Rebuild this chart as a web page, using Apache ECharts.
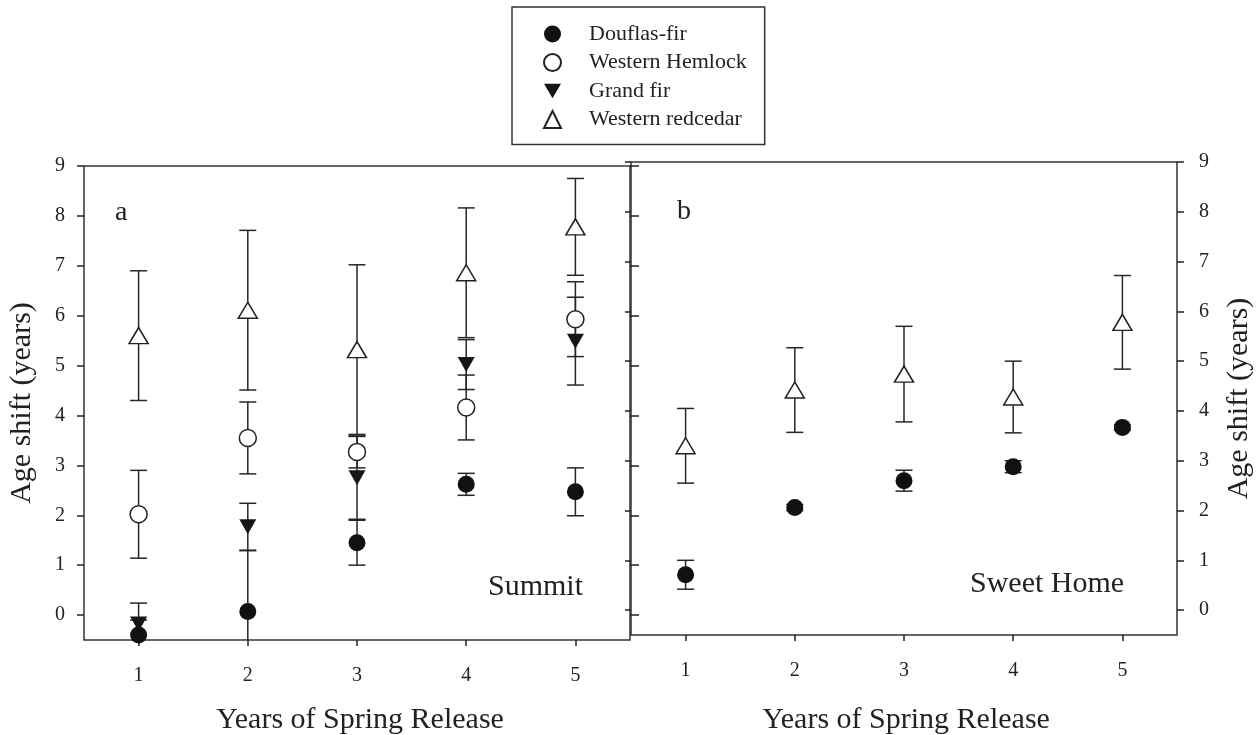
<!DOCTYPE html>
<html>
<head>
<meta charset="utf-8">
<script src="https://cdn.jsdelivr.net/npm/echarts@6/dist/echarts.min.js"></script>
<style>
  html, body { margin: 0; padding: 0; background: #fff; }
  #chart { width: 1260px; height: 735px; }
</style>
</head>
<body>
<div id="chart"></div>
<script>
// Years since release (x positions)
const years = [1, 2, 3, 4, 5];
const yTicks = [0, 1, 2, 3, 4, 5, 6, 7, 8, 9];

// Summit site: mean age shift and error (± years)
const douglasSummit = [-0.40, 0.07, 1.45, 2.62, 2.47];
const douglasSummitErr = [0.30, 1.22, 0.45, 0.22, 0.48];
const hemlockSummit = [2.02, 3.55, 3.27, 4.16, 5.93];
const hemlockSummitErr = [0.88, 0.72, 0.32, 0.65, 0.75];
const grandSummit = [-0.18, 1.77, 2.75, 5.02, 5.49];
const grandSummitErr = [0.42, 0.47, 0.83, 0.50, 0.88];
const cedarSummit = [5.60, 6.11, 5.32, 6.86, 7.78];
const cedarSummitErr = [1.30, 1.60, 1.70, 1.30, 0.97];

// Sweet Home site
const douglasSweet = [0.71, 2.06, 2.60, 2.88, 3.67];
const douglasSweetErr = [0.29, 0.06, 0.21, 0.12, 0.05];
const cedarSweet = [3.30, 4.42, 4.74, 4.28, 5.78];
const cedarSweetErr = [0.75, 0.85, 0.96, 0.72, 0.94];

const SERIF = '"Liberation Serif", "DejaVu Serif", serif';
const INK = '#222';
const DOWN_TRI = 'path://M0,0 L20,0 L10,17 Z';

function rows(means, errs) {
  return years.map((x, i) => [x, means[i], errs[i]]);
}

function errorBar(params, api) {
  const x = api.value(0), y = api.value(1), e = api.value(2);
  const top = api.coord([x, y + e]);
  const bot = api.coord([x, y - e]);
  const half = 8.5;
  const style = { stroke: '#262626', lineWidth: 1.5, fill: null };
  return {
    type: 'group',
    children: [
      { type: 'line', shape: { x1: top[0], y1: top[1], x2: bot[0], y2: bot[1] }, style },
      { type: 'line', shape: { x1: top[0] - half, y1: top[1], x2: top[0] + half, y2: top[1] }, style },
      { type: 'line', shape: { x1: bot[0] - half, y1: bot[1], x2: bot[0] + half, y2: bot[1] }, style }
    ]
  };
}

function bars(gridIdx, means, errs) {
  return {
    type: 'custom', xAxisIndex: gridIdx, yAxisIndex: gridIdx * 2,
    renderItem: errorBar, data: rows(means, errs), clip: true, z: 2, silent: true
  };
}

const markerStyles = {
  'Douflas-fir': { symbol: 'circle', symbolSize: 17, itemStyle: { color: '#111', opacity: 1 } },
  'Western Hemlock': { symbol: 'circle', symbolSize: 17, itemStyle: { color: '#fff', borderColor: INK, borderWidth: 1.5, opacity: 1 } },
  'Grand fir': { symbol: DOWN_TRI, symbolSize: [17, 15], itemStyle: { color: '#161616', opacity: 1 } },
  'Western redcedar': { symbol: 'triangle', symbolSize: [19, 16], itemStyle: { color: '#fff', borderColor: INK, borderWidth: 1.5, opacity: 1 } }
};

function points(gridIdx, name, means) {
  return Object.assign({
    type: 'scatter', name, xAxisIndex: gridIdx, yAxisIndex: gridIdx * 2,
    data: years.map((x, i) => [x, means[i]]), z: 3, silent: true
  }, markerStyles[name]);
}

function xAxis(gridIdx, pad, gap) {
  return {
    type: 'value', gridIndex: gridIdx, min: 0.5, max: 5.5,
    splitLine: { show: false },
    axisLine: { show: false, onZero: false },
    axisTick: { show: true, length: 6, customValues: years, lineStyle: { color: INK, width: 1.5 } },
    axisLabel: { customValues: years, margin: 26, fontFamily: SERIF, fontSize: 20, color: INK },
    name: 'Years of Spring Release', nameLocation: 'middle', nameGap: gap,
    nameTextStyle: { fontFamily: SERIF, fontSize: 30, color: INK, padding: pad }
  };
}

function yAxis(gridIdx, pos, labelled, tickLen) {
  const ax = {
    type: 'value', gridIndex: gridIdx, position: pos, min: -0.5, max: 9,
    splitLine: { show: false },
    axisLine: { show: false, onZero: false },
    axisTick: { show: true, length: tickLen, customValues: yTicks, lineStyle: { color: INK, width: 1.5 } },
    axisLabel: labelled
      ? { customValues: yTicks, margin: pos === 'left' ? 19 : 22, fontFamily: SERIF, fontSize: 20, color: INK }
      : { show: false }
  };
  if (labelled) {
    Object.assign(ax, {
      name: 'Age shift (years)', nameLocation: 'middle', nameRotate: 90, nameGap: 47,
      nameTextStyle: { fontFamily: SERIF, fontSize: 30, color: INK }
    });
  }
  return ax;
}

const chart = echarts.init(document.getElementById('chart'), null, { renderer: 'canvas' });

chart.setOption({
  backgroundColor: '#fff',
  animation: false,
  legend: {
    orient: 'vertical', left: 512, top: 7,
    data: ['Douflas-fir', 'Western Hemlock', 'Grand fir', 'Western redcedar'],
    itemWidth: 17, itemHeight: 17, itemGap: 6.5,
    padding: [16, 18, 14, 31],
    borderColor: '#333', borderWidth: 1.5,
    textStyle: { fontFamily: SERIF, fontSize: 22, color: INK, lineHeight: 22, padding: [0, 0, 0, 23] },
    selectedMode: false
  },
  grid: [
    { left: 84, top: 166, width: 546, height: 474, show: true, borderColor: '#333', borderWidth: 1.5,
      outerBoundsMode: 'none', containLabel: false },
    { left: 631, top: 162, width: 546, height: 473, show: true, borderColor: '#333', borderWidth: 1.5,
      outerBoundsMode: 'none', containLabel: false }
  ],
  xAxis: [xAxis(0, [0, 0, 0, 6], 65), xAxis(1, [0, 0, 0, 4], 70)],
  yAxis: [
    yAxis(0, 'left', true, 7),
    yAxis(0, 'right', false, 9),
    yAxis(1, 'right', true, 7),
    yAxis(1, 'left', false, 6)
  ],
  graphic: [
    { type: 'text', left: 115, top: 199, style: { text: 'a', fontFamily: SERIF, fontSize: 28, fill: INK } },
    { type: 'text', left: 677, top: 198, style: { text: 'b', fontFamily: SERIF, fontSize: 28, fill: INK } },
    { type: 'text', left: 488, top: 572, style: { text: 'Summit', fontFamily: SERIF, fontSize: 30, fill: INK } },
    { type: 'text', left: 970, top: 569, style: { text: 'Sweet Home', fontFamily: SERIF, fontSize: 30, fill: INK } }
  ],
  series: [
    bars(0, cedarSummit, cedarSummitErr),
    bars(0, hemlockSummit, hemlockSummitErr),
    bars(0, grandSummit, grandSummitErr),
    bars(0, douglasSummit, douglasSummitErr),
    bars(1, cedarSweet, cedarSweetErr),
    bars(1, douglasSweet, douglasSweetErr),
    points(0, 'Western redcedar', cedarSummit),
    points(0, 'Western Hemlock', hemlockSummit),
    points(0, 'Grand fir', grandSummit),
    points(0, 'Douflas-fir', douglasSummit),
    points(1, 'Western redcedar', cedarSweet),
    points(1, 'Douflas-fir', douglasSweet)
  ]
});
</script>
</body>
</html>
